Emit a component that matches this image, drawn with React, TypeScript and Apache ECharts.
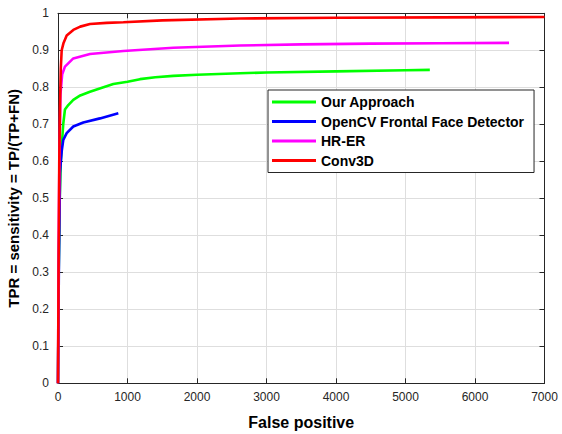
import React, { useEffect, useRef } from "react";
import * as echarts from "echarts";

const seriesNames = ["Our Approach", "OpenCV Frontal Face Detector", "HR-ER", "Conv3D"];
const seriesColors = ["#00ff00", "#0000ff", "#ff00ff", "#ff0000"];

const ourApproach: [number, number][] = [
  [0, 0], [10, 0.3], [25, 0.5], [40, 0.6], [53, 0.64], [75, 0.7], [100, 0.74], [148, 0.752],
  [220, 0.766], [320, 0.778], [460, 0.788], [600, 0.797], [796, 0.809], [1000, 0.815],
  [1180, 0.822], [1400, 0.827], [1660, 0.831], [2000, 0.834], [2619, 0.838], [3000, 0.84],
  [4000, 0.843], [5000, 0.846], [5350, 0.847],
];
const openCV: [number, number][] = [
  [0, 0], [12, 0.3], [25, 0.5], [29, 0.568], [39, 0.595], [55, 0.63], [76, 0.658], [125, 0.676],
  [220, 0.694], [364, 0.705], [604, 0.716], [868, 0.73],
];
const hrER: [number, number][] = [
  [0, 0], [10, 0.4], [20, 0.6], [35, 0.78], [60, 0.835], [100, 0.856], [220, 0.878], [460, 0.89],
  [940, 0.898], [1660, 0.907], [2619, 0.913], [3500, 0.916], [4500, 0.918], [5500, 0.919],
  [6490, 0.92],
];
const conv3D: [number, number][] = [
  [0, 0], [8, 0.3], [18, 0.6], [29, 0.75], [40, 0.85], [53, 0.9], [80, 0.92], [125, 0.94],
  [220, 0.955], [320, 0.964], [460, 0.971], [700, 0.974], [940, 0.976], [1500, 0.981],
  [2619, 0.986], [4000, 0.988], [5500, 0.989], [7000, 0.99],
];

const xTicks = { min: 0, max: 7000, interval: 1000 };
const yTicks = { min: 0, max: 1, interval: 0.1 };

export default function App() {
  const ref = useRef<HTMLDivElement>(null);
  useEffect(() => {
    if (!ref.current) return;
    const chart = echarts.init(ref.current, undefined, { renderer: "svg" });
    const axisColor = "#262626";
    const gridColor = "#dedede";
    const font = "Arial, 'Liberation Sans', sans-serif";
    const allData = [ourApproach, openCV, hrER, conv3D];
    const lineSeries = seriesNames.map((name, i) => ({
      name,
      type: "line",
      data: allData[i],
      xAxisIndex: 0,
      yAxisIndex: 0,
      showSymbol: false,
      symbol: "none",
      smooth: false,
      color: seriesColors[i],
      lineStyle: { color: seriesColors[i], width: 2.6 },
      itemStyle: { color: seriesColors[i] },
      z: 3 + i,
    }));
    chart.setOption({
      animation: false,
      backgroundColor: "#ffffff",
      textStyle: { fontFamily: font },
      grid: {
        left: 58,
        right: 17.5,
        top: 13.3,
        bottom: 50.7,
        show: false,
        containLabel: false,
        outerBoundsMode: "none",
      },
      legend: {
        data: seriesNames,
        orient: "vertical",
        left: 268,
        top: 90,
        backgroundColor: "#ffffff",
        borderColor: "#262626",
        borderWidth: 1,
        borderRadius: 0,
        padding: [5, 10, 5, 4],
        itemWidth: 44,
        itemHeight: 3,
        itemGap: 5.5,
        icon: "rect",
        z: 10,
        textStyle: {
          fontFamily: font,
          fontWeight: "bold",
          fontSize: 14,
          color: "#000",
          lineHeight: 14,
        },
      },
      xAxis: [
        {
          type: "value",
          ...xTicks,
          position: "bottom",
          name: "False positive",
          nameLocation: "middle",
          nameGap: 31,
          nameTextStyle: { fontFamily: font, fontWeight: "bold", fontSize: 16, color: "#000" },
          axisLine: { show: true, onZero: false, lineStyle: { color: axisColor, width: 1 } },
          axisTick: { show: true, inside: true, length: 5, lineStyle: { color: axisColor } },
          axisLabel: {
            color: axisColor,
            fontSize: 12,
            margin: 8,
            fontFamily: font,
            formatter: (v: number) => String(v),
          },
          splitLine: { show: true, lineStyle: { color: gridColor, width: 1, type: "solid" } },
        },
        {
          type: "value",
          ...xTicks,
          position: "top",
          axisLine: { show: true, onZero: false, lineStyle: { color: axisColor, width: 1 } },
          axisTick: { show: true, inside: true, length: 5, lineStyle: { color: axisColor } },
          axisLabel: { show: false },
          splitLine: { show: false },
        },
      ],
      yAxis: [
        {
          type: "value",
          ...yTicks,
          position: "left",
          name: "TPR = sensitivity = TP/(TP+FN)",
          nameLocation: "middle",
          nameGap: 37,
          nameTextStyle: { fontFamily: font, fontWeight: "bold", fontSize: 15, color: "#000" },
          axisLine: { show: true, onZero: false, lineStyle: { color: axisColor, width: 1 } },
          axisTick: { show: true, inside: true, length: 5, lineStyle: { color: axisColor } },
          axisLabel: {
            color: axisColor,
            fontSize: 12,
            margin: 9,
            fontFamily: font,
            formatter: (v: number) => String(Math.round(v * 10) / 10),
          },
          splitLine: { show: true, lineStyle: { color: gridColor, width: 1, type: "solid" } },
        },
        {
          type: "value",
          ...yTicks,
          position: "right",
          axisLine: { show: true, onZero: false, lineStyle: { color: axisColor, width: 1 } },
          axisTick: { show: true, inside: true, length: 5, lineStyle: { color: axisColor } },
          axisLabel: { show: false },
          splitLine: { show: false },
        },
      ],
      series: lineSeries,
    });
    return () => chart.dispose();
  }, []);
  return (
    <div
      ref={ref}
      style={{ position: "fixed", left: 0, top: 0, width: 562, height: 434 }}
    />
  );
}
